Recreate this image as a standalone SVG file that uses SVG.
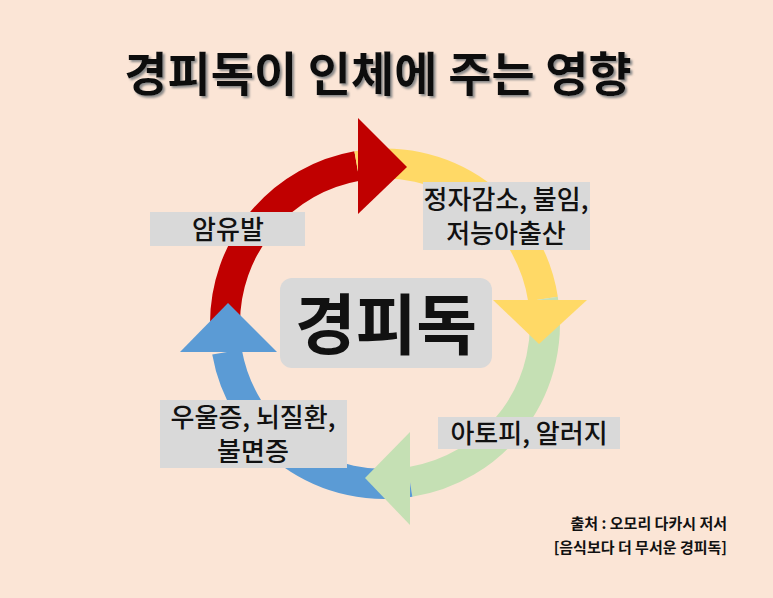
<svg xmlns="http://www.w3.org/2000/svg" width="773" height="598" viewBox="0 0 773 598">
<defs>
<style>
text{font-family:"Noto Sans CJK KR","Noto Sans",sans-serif;fill:#111}
.lb{font-size:26px;font-weight:500;text-anchor:middle}
.box{fill:#d9d9d9}
.arc{fill:none;stroke-width:30}
</style>
<filter id="sh" x="-5%" y="-20%" width="110%" height="140%"><feDropShadow dx="2" dy="2" stdDeviation="1" flood-color="#888"/></filter>
</defs>
<rect width="773" height="598" fill="#fbe5d6"/>
<text x="378" y="91" text-anchor="middle" font-size="47" font-weight="bold" filter="url(#sh)">경피독이 인체에 주는 영향</text>
<g id="connectors">
<path class="arc" stroke="#c00000" d="M225,324 A160,160 0 0 1 357,166"/>
<path class="arc" stroke="#ffd966" d="M357,166 A160,160 0 0 1 543,299"/>
<path class="arc" stroke="#c5e0b4" d="M543,299 A160,160 0 0 1 410,482"/>
<path class="arc" stroke="#5b9bd5" d="M410,482 A160,160 0 0 1 227,352"/>
<polygon fill="#ffd966" points="493,300 587,300 539,344"/>
<polygon fill="#c00000" points="358,118 407,167 358,214"/>
<polygon fill="#c5e0b4" points="410,432 410,525 365,478"/>
<polygon fill="#5b9bd5" points="180,352 277,352 228,303"/>
</g>
<g id="n-center"><rect x="280" y="278" width="212" height="90" rx="12" class="box"/><text x="386" y="349" text-anchor="middle" font-size="66" font-weight="bold">경피독</text></g>
<g id="n-cancer"><rect x="150" y="212" width="155" height="34" class="box"/><text x="228" y="239" class="lb">암유발</text></g>
<g id="n-sperm"><rect x="423" y="182" width="167" height="68" class="box"/><text x="506" y="209" class="lb">정자감소, 불임,</text><text x="506" y="243" class="lb">저능아출산</text></g>
<g id="n-atopy"><rect x="438" y="417" width="182" height="32" class="box"/><text x="529" y="443" class="lb">아토피, 알러지</text></g>
<g id="n-depress"><rect x="160" y="400" width="187" height="68" class="box"/><text x="253" y="427" class="lb">우울증, 뇌질환,</text><text x="253" y="461" class="lb">불면증</text></g>
<text x="727" y="529" text-anchor="end" font-size="15" font-weight="bold">출처 : 오모리 다카시 저서</text>
<text x="727" y="553" text-anchor="end" font-size="15" font-weight="bold">[음식보다 더 무서운 경피독]</text>
</svg>
